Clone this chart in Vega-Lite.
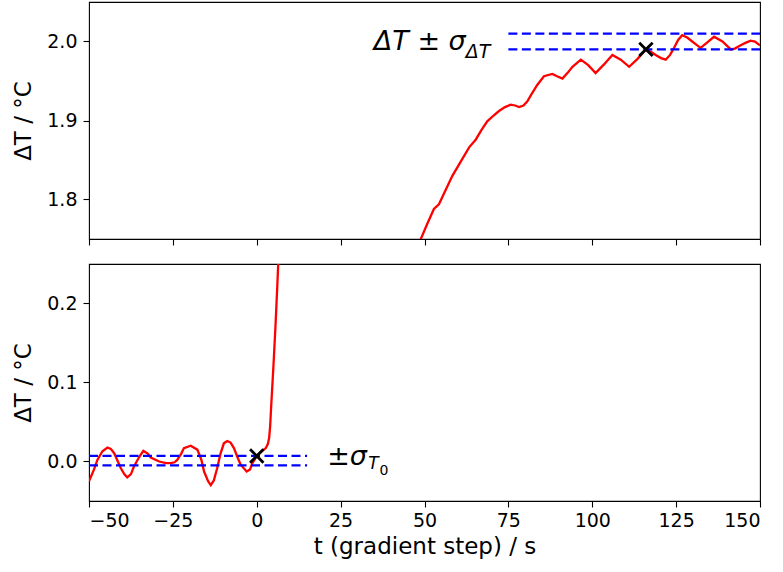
{
  "$schema": "https://vega.github.io/schema/vega-lite/v6.json",
  "autosize": {"type": "pad"},
  "padding": {"left": 11, "top": 1, "right": 5, "bottom": 5},
  "background": "white",
  "config": {
    "font": "DejaVu Sans",
    "view": {"stroke": "black", "strokeWidth": 1.1},
    "axis": {
      "grid": false, "domain": false,
      "tickColor": "black", "tickSize": 6, "tickWidth": 1.1,
      "labelColor": "black", "labelFontSize": 19, "labelPadding": 6,
      "titleFontSize": 23, "titleFontWeight": "normal", "titleColor": "black",
      "labelFont": "DejaVu Sans", "titleFont": "DejaVu Sans"
    }
  },
  "datasets": {
    "curve": [
      {"t": -50, "v": -0.025}, {"t": -48.5, "v": -0.01}, {"t": -47.5, "v": 0.002}, {"t": -46, "v": 0.013},
      {"t": -44.5, "v": 0.0177}, {"t": -43.5, "v": 0.016}, {"t": -42.5, "v": 0.0105}, {"t": -40.5, "v": -0.0085},
      {"t": -39.5, "v": -0.016}, {"t": -38.6, "v": -0.02}, {"t": -37.5, "v": -0.016}, {"t": -36.6, "v": -0.0063},
      {"t": -35, "v": 0.006}, {"t": -33.8, "v": 0.0134}, {"t": -32.5, "v": 0.01}, {"t": -31.6, "v": 0.005},
      {"t": -29.1, "v": 0.0}, {"t": -27, "v": -0.002}, {"t": -25.6, "v": -0.002}, {"t": -24.5, "v": -0.001},
      {"t": -23.7, "v": 0.002}, {"t": -22.5, "v": 0.01}, {"t": -21.7, "v": 0.017}, {"t": -19.7, "v": 0.02},
      {"t": -17.7, "v": 0.015}, {"t": -16.5, "v": 0.002}, {"t": -15.7, "v": -0.0127}, {"t": -14.5, "v": -0.025},
      {"t": -13.7, "v": -0.03}, {"t": -12.8, "v": -0.024}, {"t": -11.8, "v": -0.0085}, {"t": -10.8, "v": 0.01},
      {"t": -9.8, "v": 0.023}, {"t": -8.8, "v": 0.026}, {"t": -7.8, "v": 0.024}, {"t": -6.8, "v": 0.017},
      {"t": -5.8, "v": 0.006}, {"t": -4.8, "v": -0.004}, {"t": -3.0, "v": -0.0127}, {"t": -2.0, "v": -0.01},
      {"t": -1.3, "v": -0.002}, {"t": 0.2, "v": 0.008}, {"t": 1.5, "v": 0.013}, {"t": 2.7, "v": 0.017},
      {"t": 3.3, "v": 0.022}, {"t": 3.7, "v": 0.03}, {"t": 4.0, "v": 0.045}, {"t": 4.3, "v": 0.07},
      {"t": 4.7, "v": 0.1}, {"t": 5.1, "v": 0.131}, {"t": 5.6, "v": 0.173}, {"t": 6.1, "v": 0.22},
      {"t": 6.6, "v": 0.27}, {"t": 7.5, "v": 0.36}, {"t": 10, "v": 0.65}, {"t": 15, "v": 1.0},
      {"t": 20, "v": 1.25}, {"t": 30, "v": 1.5}, {"t": 40, "v": 1.65}, {"t": 45, "v": 1.712},
      {"t": 48.9, "v": 1.75}, {"t": 50.8, "v": 1.769}, {"t": 52.8, "v": 1.788}, {"t": 54.3, "v": 1.794},
      {"t": 56.3, "v": 1.812}, {"t": 58.3, "v": 1.83}, {"t": 60.8, "v": 1.848}, {"t": 63.3, "v": 1.866},
      {"t": 65.3, "v": 1.876}, {"t": 67.0, "v": 1.888}, {"t": 68.7, "v": 1.899}, {"t": 70.5, "v": 1.906},
      {"t": 72.2, "v": 1.912}, {"t": 74.0, "v": 1.917}, {"t": 75.7, "v": 1.92}, {"t": 77.0, "v": 1.919},
      {"t": 78.2, "v": 1.917}, {"t": 79.5, "v": 1.919}, {"t": 80.6, "v": 1.924}, {"t": 82.0, "v": 1.934},
      {"t": 83.6, "v": 1.945}, {"t": 85.6, "v": 1.956}, {"t": 88.1, "v": 1.959}, {"t": 89.5, "v": 1.956},
      {"t": 91.1, "v": 1.953}, {"t": 92.6, "v": 1.96}, {"t": 94.1, "v": 1.968}, {"t": 96.6, "v": 1.977},
      {"t": 98.8, "v": 1.97}, {"t": 101.0, "v": 1.96}, {"t": 103.5, "v": 1.971}, {"t": 106.0, "v": 1.983},
      {"t": 108.5, "v": 1.977}, {"t": 111.0, "v": 1.968}, {"t": 113.5, "v": 1.978}, {"t": 115.9, "v": 1.9895},
      {"t": 117.5, "v": 1.987}, {"t": 118.9, "v": 1.983}, {"t": 120.5, "v": 1.979}, {"t": 121.9, "v": 1.977},
      {"t": 123.2, "v": 1.983}, {"t": 124.4, "v": 1.992}, {"t": 125.6, "v": 2.002}, {"t": 126.8, "v": 2.008},
      {"t": 128.3, "v": 2.005}, {"t": 129.8, "v": 2.0}, {"t": 131.0, "v": 1.996}, {"t": 132.3, "v": 1.992},
      {"t": 134.3, "v": 1.999}, {"t": 136.3, "v": 2.006}, {"t": 138.8, "v": 2.0}, {"t": 141.3, "v": 1.99},
      {"t": 142.5, "v": 1.991}, {"t": 143.7, "v": 1.994}, {"t": 145.5, "v": 1.998}, {"t": 147.2, "v": 2.001},
      {"t": 148.5, "v": 2.0}, {"t": 150, "v": 1.995}
    ],
    "topBand": [{"t0": 75, "t1": 150, "v": 2.01}, {"t0": 75, "t1": 150, "v": 1.99}],
    "botBand": [{"t0": -50, "t1": 15, "v": 0.007}, {"t0": -50, "t1": 15, "v": -0.005}],
    "topMark": [{"t": 116, "v": 1.99}],
    "botMark": [{"t": 0, "v": 0.007}],
    "topLabel": [{"t": 34.9, "v": 1.9895, "label": "ΔT ± σ"}],
    "topSub": [{"t": 62.3, "v": 1.979, "label": "ΔT"}],
    "botLabel": [{"t": 21.0, "v": -0.004, "label": "±σ"}],
    "botSub": [{"t": 33.2, "v": -0.0094, "label": "T"}],
    "botSubSub": [{"t": 36.6, "v": -0.017, "label": "0"}]
  },
  "spacing": 25,
  "bounds": "flush",
  "resolve": {"scale": {"x": "independent", "y": "independent"}},
  "vconcat": [
    {
      "width": 671, "height": 237,
      "layer": [
        {
          "data": {"name": "curve"},
          "mark": {"type": "line", "color": "red", "strokeWidth": 2.3, "clip": true},
          "encoding": {
            "x": {"field": "t", "type": "quantitative", "scale": {"domain": [-50, 150], "nice": false},
                  "axis": {"values": [-50, -25, 0, 25, 50, 75, 100, 125, 150], "labels": false, "title": null}},
            "y": {"field": "v", "type": "quantitative", "scale": {"domain": [1.75, 2.05], "nice": false, "zero": false},
                  "axis": {"values": [1.8, 1.9, 2.0], "format": ".1f", "title": "ΔT / °C", "titleX": -59, "titleBaseline": "alphabetic"}}
          }
        },
        {
          "data": {"name": "topBand"},
          "mark": {"type": "rule", "color": "blue", "strokeWidth": 2.2, "strokeDash": [9, 4.5]},
          "encoding": {
            "x": {"field": "t0", "type": "quantitative"},
            "x2": {"field": "t1"},
            "y": {"field": "v", "type": "quantitative"}
          }
        },
        {
          "data": {"name": "topMark"},
          "mark": {"type": "point", "shape": "M-1,-1L1,1M-1,1L1,-1", "filled": false, "stroke": "black", "strokeWidth": 2.8, "size": 180, "opacity": 1},
          "encoding": {
            "x": {"field": "t", "type": "quantitative"},
            "y": {"field": "v", "type": "quantitative"}
          }
        },
        {
          "data": {"name": "topLabel"},
          "mark": {"type": "text", "align": "left", "baseline": "alphabetic", "fontSize": 27, "fontStyle": "italic", "color": "black"},
          "encoding": {
            "x": {"field": "t", "type": "quantitative"},
            "y": {"field": "v", "type": "quantitative"},
            "text": {"field": "label"}
          }
        },
        {
          "data": {"name": "topSub"},
          "mark": {"type": "text", "align": "left", "baseline": "alphabetic", "fontSize": 19, "fontStyle": "italic", "color": "black"},
          "encoding": {
            "x": {"field": "t", "type": "quantitative"},
            "y": {"field": "v", "type": "quantitative"},
            "text": {"field": "label"}
          }
        }
      ]
    },
    {
      "width": 671, "height": 237,
      "layer": [
        {
          "data": {"name": "curve"},
          "mark": {"type": "line", "color": "red", "strokeWidth": 2.3, "clip": true},
          "encoding": {
            "x": {"field": "t", "type": "quantitative", "scale": {"domain": [-50, 150], "nice": false},
                  "axis": {"values": [-50, -25, 0, 25, 50, 75, 100, 125, 150], "format": "d", "title": "t (gradient step) / s", "labelPadding": 4, "titlePadding": 5}},
            "y": {"field": "v", "type": "quantitative", "scale": {"domain": [-0.05, 0.25], "nice": false, "zero": false},
                  "axis": {"values": [0.0, 0.1, 0.2], "format": ".1f", "title": "ΔT / °C", "titleX": -59, "titleBaseline": "alphabetic"}}
          }
        },
        {
          "data": {"name": "botBand"},
          "mark": {"type": "rule", "color": "blue", "strokeWidth": 2.2, "strokeDash": [9, 4.5]},
          "encoding": {
            "x": {"field": "t0", "type": "quantitative"},
            "x2": {"field": "t1"},
            "y": {"field": "v", "type": "quantitative"}
          }
        },
        {
          "data": {"name": "botMark"},
          "mark": {"type": "point", "shape": "M-1,-1L1,1M-1,1L1,-1", "filled": false, "stroke": "black", "strokeWidth": 2.8, "size": 180, "opacity": 1},
          "encoding": {
            "x": {"field": "t", "type": "quantitative"},
            "y": {"field": "v", "type": "quantitative"}
          }
        },
        {
          "data": {"name": "botLabel"},
          "mark": {"type": "text", "align": "left", "baseline": "alphabetic", "fontSize": 27, "fontStyle": "italic", "color": "black"},
          "encoding": {
            "x": {"field": "t", "type": "quantitative"},
            "y": {"field": "v", "type": "quantitative"},
            "text": {"field": "label"}
          }
        },
        {
          "data": {"name": "botSub"},
          "mark": {"type": "text", "align": "left", "baseline": "alphabetic", "fontSize": 17, "fontStyle": "italic", "color": "black"},
          "encoding": {
            "x": {"field": "t", "type": "quantitative"},
            "y": {"field": "v", "type": "quantitative"},
            "text": {"field": "label"}
          }
        },
        {
          "data": {"name": "botSubSub"},
          "mark": {"type": "text", "align": "left", "baseline": "alphabetic", "fontSize": 14, "color": "black"},
          "encoding": {
            "x": {"field": "t", "type": "quantitative"},
            "y": {"field": "v", "type": "quantitative"},
            "text": {"field": "label"}
          }
        }
      ]
    }
  ]
}
